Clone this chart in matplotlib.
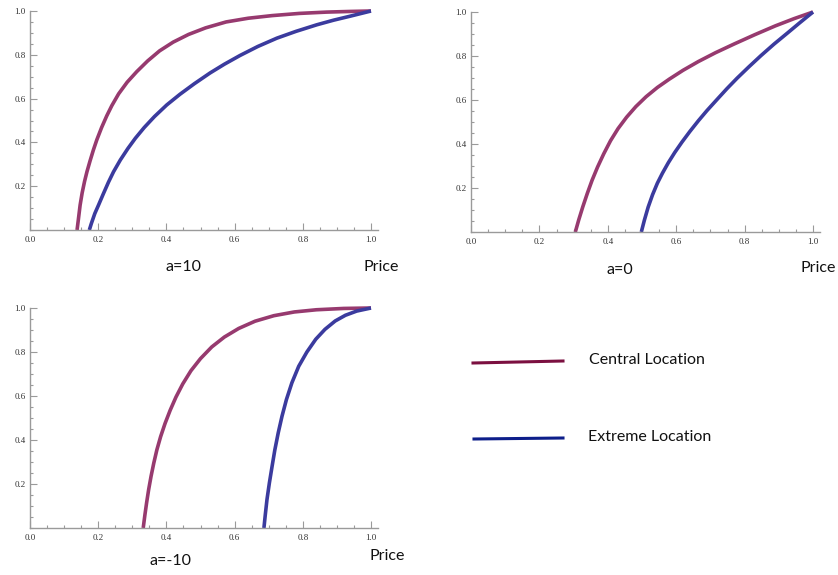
import matplotlib.pyplot as plt
from matplotlib.ticker import MultipleLocator, FixedLocator

# values: (price, share) for each curve
central_a10_x = [0.138, 0.142, 0.147, 0.153, 0.160, 0.167, 0.176, 0.186, 0.196, 0.210, 0.225, 0.240, 0.260, 0.285,
                 0.313, 0.345, 0.380, 0.420, 0.465, 0.515, 0.575, 0.640, 0.710, 0.790, 0.870, 0.940, 1.000]
central_a10_y = [0.000, 0.050, 0.114, 0.170, 0.222, 0.266, 0.315, 0.366, 0.412, 0.468, 0.521, 0.568, 0.622, 0.675,
                 0.723, 0.772, 0.818, 0.858, 0.893, 0.923, 0.950, 0.967, 0.979, 0.989, 0.995, 0.998, 1.000]
extreme_a10_x = [0.174, 0.180, 0.190, 0.201, 0.215, 0.230, 0.245, 0.265, 0.287, 0.309, 0.335, 0.365, 0.401,
                 0.440, 0.482, 0.528, 0.570, 0.616, 0.668, 0.724, 0.780, 0.841, 0.890, 0.938, 1.000]
extreme_a10_y = [0.000, 0.030, 0.075, 0.114, 0.165, 0.218, 0.266, 0.320, 0.372, 0.419, 0.468, 0.518, 0.571,
                 0.620, 0.668, 0.717, 0.757, 0.797, 0.838, 0.876, 0.907, 0.937, 0.958, 0.976, 1.000]

central_a0_x = [0.305, 0.315, 0.327, 0.340, 0.354, 0.370, 0.388, 0.408, 0.430, 0.455, 0.482,
                0.512, 0.545, 0.580, 0.620, 0.665, 0.715, 0.770, 0.830, 0.890, 0.945, 1.000]
central_a0_y = [0.000, 0.055, 0.115, 0.175, 0.235, 0.295, 0.355, 0.415, 0.470, 0.522, 0.570,
                0.615, 0.657, 0.695, 0.735, 0.775, 0.815, 0.855, 0.897, 0.937, 0.970, 1.000]
extreme_a0_x = [0.498, 0.507, 0.518, 0.531, 0.545, 0.560, 0.577, 0.596, 0.617, 0.640, 0.665,
                0.690, 0.718, 0.748, 0.778, 0.812, 0.848, 0.886, 0.925, 0.962, 1.000]
extreme_a0_y = [0.000, 0.054, 0.113, 0.170, 0.222, 0.268, 0.315, 0.362, 0.409, 0.457, 0.506,
                0.552, 0.600, 0.651, 0.699, 0.750, 0.802, 0.854, 0.904, 0.952, 1.000]

central_am10_x = [0.332, 0.337, 0.342, 0.348, 0.355, 0.363, 0.372, 0.383, 0.396, 0.411, 0.428, 0.448,
                  0.472, 0.500, 0.533, 0.570, 0.612, 0.660, 0.715, 0.775, 0.840, 0.920, 1.000]
central_am10_y = [0.000, 0.060, 0.115, 0.175, 0.235, 0.295, 0.355, 0.415, 0.475, 0.535, 0.595, 0.655,
                  0.715, 0.770, 0.823, 0.868, 0.907, 0.940, 0.965, 0.982, 0.992, 0.998, 1.000]
extreme_am10_x = [0.686, 0.690, 0.695, 0.702, 0.710, 0.718, 0.728, 0.739, 0.752, 0.768, 0.788,
                  0.812, 0.838, 0.865, 0.895, 0.925, 0.958, 1.000]
extreme_am10_y = [0.000, 0.060, 0.130, 0.205, 0.281, 0.355, 0.433, 0.508, 0.584, 0.660, 0.735,
                  0.800, 0.858, 0.903, 0.941, 0.967, 0.986, 1.000]

purple = "#973a6f"
blue = "#3b3b9e"
axis_grey = "#9a9a9a"

fig = plt.figure(figsize=(8.38, 5.75), dpi=100)
W, H = 838, 575

def make_ax(x0, x1, ytop, ybot):
    # pixel positions of data 0 and 1 on each axis
    w = (x1 - x0) * 1.02
    ax = fig.add_axes([x0 / W, 1 - ybot / H, w / W, (ybot - ytop) / H])
    ax.set_xlim(0, 1.02)
    ax.set_ylim(0, 1.0)
    for s in ["top", "right"]:
        ax.spines[s].set_visible(False)
    for s in ["left", "bottom"]:
        ax.spines[s].set_color(axis_grey)
        ax.spines[s].set_linewidth(1.0)
    ax.xaxis.set_major_locator(FixedLocator([0.0, 0.2, 0.4, 0.6, 0.8, 1.0]))
    ax.xaxis.set_minor_locator(MultipleLocator(0.05))
    ax.yaxis.set_major_locator(FixedLocator([0.2, 0.4, 0.6, 0.8, 1.0]))
    ax.yaxis.set_minor_locator(MultipleLocator(0.05))
    ax.tick_params(which="both", direction="in", colors=axis_grey,
                   labelcolor="#333333", labelsize=6.5, width=0.8)
    ax.tick_params(which="major", length=5)
    ax.tick_params(which="minor", length=2.5)
    ax.tick_params(axis="x", pad=4)
    ax.tick_params(axis="y", pad=3)
    ax.set_xticklabels(["0.0", "0.2", "0.4", "0.6", "0.8", "1.0"], family="Liberation Serif")
    ax.set_yticklabels(["0.2", "0.4", "0.6", "0.8", "1.0"], family="Liberation Serif")
    return ax

panels = [
    (30, 371, 11, 230, central_a10_x, central_a10_y, extreme_a10_x, extreme_a10_y),
    (471, 813, 12, 232, central_a0_x, central_a0_y, extreme_a0_x, extreme_a0_y),
    (30, 371, 308, 528, central_am10_x, central_am10_y, extreme_am10_x, extreme_am10_y),
]
for x0, x1, yt, yb, cx, cy, ex, ey in panels:
    ax = make_ax(x0, x1, yt, yb)
    ax.plot(cx, cy, color=purple, lw=2.6, clip_on=False, solid_capstyle="butt", solid_joinstyle="round")
    ax.plot(ex, ey, color=blue, lw=2.6, clip_on=False, solid_capstyle="butt", solid_joinstyle="round")

lbl = dict(family=["Lato", "DejaVu Sans"], fontsize=11.5, color="#111111")
fig.text(183 / W, 1 - 267 / H, "a=10", ha="center", va="center", **lbl)
fig.text(381 / W, 1 - 267 / H, "Price", ha="center", va="center", **lbl)
fig.text(620 / W, 1 - 270 / H, "a=0", ha="center", va="center", **lbl)
fig.text(818 / W, 1 - 268 / H, "Price", ha="center", va="center", **lbl)
fig.text(170 / W, 1 - 561 / H, "a=-10", ha="center", va="center", **lbl)
fig.text(387 / W, 1 - 556 / H, "Price", ha="center", va="center", **lbl)

# legend drawn by hand
fig.add_artist(plt.Line2D([473 / W, 563 / W], [1 - 363 / H, 1 - 361 / H], color="#7b1040", lw=2.2))
fig.add_artist(plt.Line2D([474 / W, 563 / W], [1 - 439 / H, 1 - 438 / H], color="#0d1e8a", lw=2.2))
fig.text(589 / W, 1 - 360 / H, "Central Location", ha="left", va="center", **lbl)
fig.text(588 / W, 1 - 437 / H, "Extreme Location", ha="left", va="center", **lbl)

fig.savefig("out.png", dpi=100)
